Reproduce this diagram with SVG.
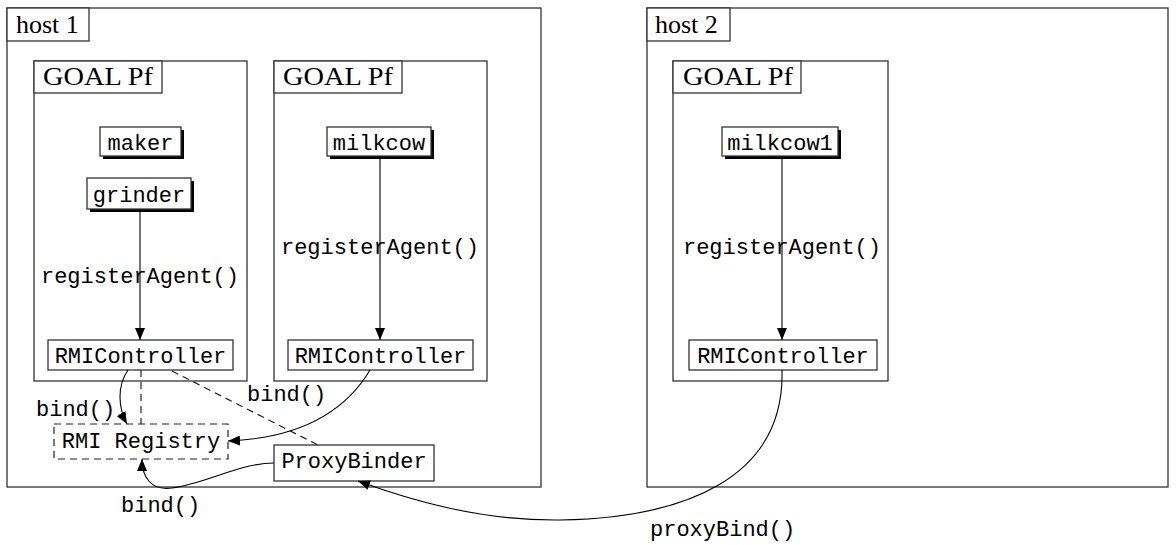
<svg xmlns="http://www.w3.org/2000/svg" width="1176" height="545" viewBox="0 0 1176 545">
<style>
.frame{fill:none;stroke:#333;stroke-width:1.3}
.lbl{fill:#fff;stroke:#333;stroke-width:1.3}
.box{fill:#fff;stroke:#333;stroke-width:1.3}
.shadow{fill:#000}
.dash{fill:none;stroke:#222;stroke-width:1.2;stroke-dasharray:7,5}
.serif{font-family:"Liberation Serif","Times New Roman",serif;font-size:26px;fill:#000}
.mono{font-family:"Liberation Mono","Courier New",monospace;font-size:22px;fill:#000}
.edge{fill:none;stroke:#000;stroke-width:1.1}
</style>
<defs>
<marker id="arr" viewBox="0 0 12 10" refX="12" refY="5" markerWidth="12" markerHeight="10" markerUnits="userSpaceOnUse" orient="auto">
<path d="M0,0 L12,5 L0,10 Z" fill="#000"/>
</marker>
</defs>
<rect width="1176" height="545" fill="#fff"/>

<g id="host1">
<rect class="frame" x="7" y="8" width="534" height="479"/>
<rect class="lbl" x="7" y="8" width="82" height="33"/>
<text class="serif" x="16" y="33">host 1</text>
</g>
<g id="host2">
<rect class="frame" x="647" y="8" width="521" height="479"/>
<rect class="lbl" x="647" y="8" width="83" height="33"/>
<text class="serif" x="655" y="33">host 2</text>
</g>

<g id="goal1">
<rect class="frame" x="34" y="61" width="213" height="320"/>
<rect class="lbl" x="34" y="61" width="128" height="32"/>
<text class="serif" x="43" y="85" textLength="110" lengthAdjust="spacingAndGlyphs">GOAL Pf</text>
</g>
<g id="goal2">
<rect class="frame" x="274" y="61" width="213" height="320"/>
<rect class="lbl" x="274" y="61" width="128" height="32"/>
<text class="serif" x="283" y="85" textLength="110" lengthAdjust="spacingAndGlyphs">GOAL Pf</text>
</g>
<g id="goal3">
<rect class="frame" x="673" y="61" width="215" height="320"/>
<rect class="lbl" x="673" y="61" width="128" height="32"/>
<text class="serif" x="683" y="85" textLength="110" lengthAdjust="spacingAndGlyphs">GOAL Pf</text>
</g>

<g id="maker">
<rect class="shadow" x="103" y="130" width="81" height="29"/>
<rect class="box" x="100" y="127" width="81" height="29"/>
<text class="mono" x="140.5" y="150" text-anchor="middle">maker</text>
</g>
<g id="grinder">
<rect class="shadow" x="90" y="181" width="104" height="31"/>
<rect class="box" x="87" y="178" width="104" height="31"/>
<text class="mono" x="139" y="202" text-anchor="middle">grinder</text>
</g>
<g id="milkcow">
<rect class="shadow" x="330" y="130" width="104" height="29"/>
<rect class="box" x="327" y="127" width="104" height="29"/>
<text class="mono" x="379" y="150" text-anchor="middle">milkcow</text>
</g>
<g id="milkcow1">
<rect class="shadow" x="725" y="130" width="116" height="29"/>
<rect class="box" x="722" y="127" width="116" height="29"/>
<text class="mono" x="780" y="150" text-anchor="middle">milkcow1</text>
</g>

<g id="rmic1">
<rect class="box" x="48" y="340" width="185" height="30"/>
<text class="mono" x="140.5" y="363" text-anchor="middle">RMIController</text>
</g>
<g id="rmic2">
<rect class="box" x="288" y="340" width="185" height="30"/>
<text class="mono" x="380.5" y="363" text-anchor="middle">RMIController</text>
</g>
<g id="rmic3">
<rect class="box" x="689" y="340" width="188" height="30"/>
<text class="mono" x="783" y="363" text-anchor="middle">RMIController</text>
</g>

<g id="registry">
<rect class="dash" x="54" y="424" width="174" height="35" fill="#fff"/>
<text class="mono" x="141" y="448" text-anchor="middle">RMI Registry</text>
</g>
<g id="proxybinder">
<rect class="box" x="274" y="445" width="160" height="36"/>
<text class="mono" x="354" y="468" text-anchor="middle">ProxyBinder</text>
</g>

<g id="connectors">
<line class="edge" x1="140" y1="212" x2="140" y2="340" marker-end="url(#arr)"/>
<text class="mono" x="140" y="283" text-anchor="middle">registerAgent()</text>
<line class="edge" x1="380" y1="159" x2="380" y2="340" marker-end="url(#arr)"/>
<text class="mono" x="380" y="254" text-anchor="middle">registerAgent()</text>
<line class="edge" x1="782" y1="159" x2="782" y2="340" marker-end="url(#arr)"/>
<text class="mono" x="782" y="254" text-anchor="middle">registerAgent()</text>

<line class="dash" x1="141" y1="370" x2="141" y2="424"/>
<line class="dash" x1="172" y1="371" x2="318" y2="445"/>

<path class="edge" d="M128,370 C117,386 118,408 127,424" marker-end="url(#arr)"/>
<text class="mono" x="36" y="416">bind()</text>
<path class="edge" d="M370,370 C345,412 300,438 228,441" marker-end="url(#arr)"/>
<text class="mono" x="247" y="401">bind()</text>
<path class="edge" d="M274,463 C240,463 205,484 172,488 C150,491 142,476 142,459" marker-end="url(#arr)"/>
<text class="mono" x="121" y="512">bind()</text>
<path class="edge" d="M782,370 C785,478 685,518 560,520 C480,521 410,500 358,481" marker-end="url(#arr)"/>
<text class="mono" x="650" y="536">proxyBind()</text>
</g>
</svg>
